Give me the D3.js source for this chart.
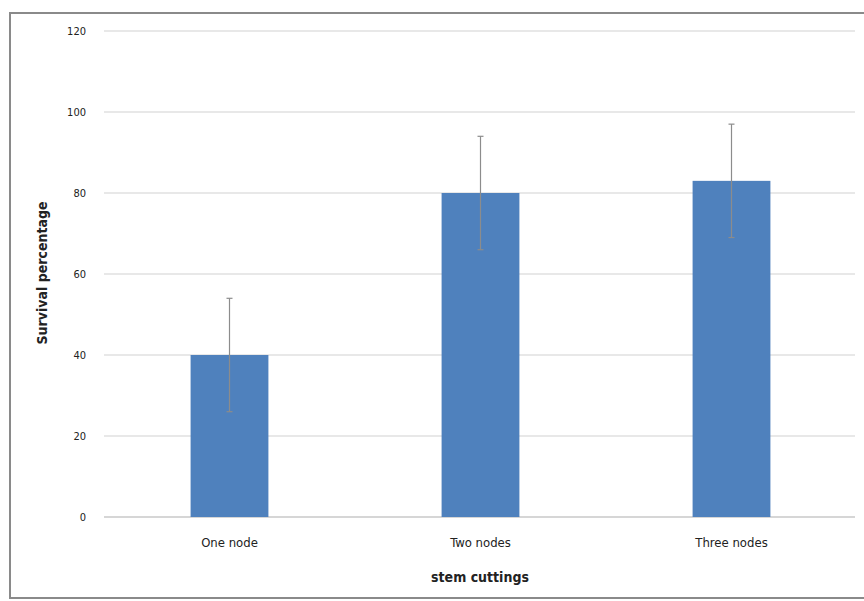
<html>
<script src="https://d3js.org/d3.v7.min.js"></script>
<style>
  body { margin: 0; background: #fff; }
  text { font-family: "Liberation Sans Narrow", "DejaVu Sans Condensed", sans-serif; fill: #222; }
</style>
<body>
<div id="chart"></div>
<script>
  const categories = ["One node", "Two nodes", "Three nodes"];
  const survival = [40, 80, 83];
  const errors = [14, 14, 14];
  const yTicks = [0, 20, 40, 60, 80, 100, 120];

  var width = 864, height = 601;
  var svg = d3.select("#chart").append("svg")
    .attr("width", width).attr("height", height);

  // outer frame
  svg.append("rect")
    .attr("x", 10).attr("y", 13)
    .attr("width", 870).attr("height", 585)
    .attr("fill", "none").attr("stroke", "#8a8a8a").attr("stroke-width", 2);

  var xScale = d3.scaleBand()
    .domain(categories)
    .range([104, 857])
    .paddingInner(0.69).paddingOuter(0.345);

  var yScale = d3.scaleLinear().domain([0, 120]).range([517, 31]);

  // gridlines
  svg.append("g").selectAll("line")
    .data(yTicks)
    .enter().append("line")
    .attr("x1", 104).attr("x2", 855)
    .attr("y1", d => yScale(d)).attr("y2", d => yScale(d))
    .attr("stroke", d => d === 0 ? "#c8c8c8" : "#e0e0e0")
    .attr("stroke-width", 1.5);

  var yAxis = svg.append("g")
    .attr("transform", "translate(96,0)")
    .call(d3.axisLeft(yScale).tickValues(yTicks).tickSize(0).tickPadding(10));
  yAxis.select(".domain").remove();
  yAxis.selectAll("text").style("font-size", "11px").attr("fill", "#222");

  svg.selectAll(".bar")
    .data(survival)
    .enter().append("rect")
    .attr("class", "bar")
    .attr("x", (d, i) => xScale(categories[i]))
    .attr("width", xScale.bandwidth())
    .attr("y", d => yScale(d))
    .attr("height", d => yScale(0) - yScale(d))
    .attr("fill", "#4f81bd");

  // error bars
  var eb = svg.append("g").selectAll("g")
    .data(survival)
    .enter().append("g")
    .attr("stroke", "#8c8c8c").attr("stroke-width", 1.2);
  eb.append("line")
    .attr("x1", (d, i) => xScale(categories[i]) + xScale.bandwidth() / 2)
    .attr("x2", (d, i) => xScale(categories[i]) + xScale.bandwidth() / 2)
    .attr("y1", (d, i) => yScale(d + errors[i]))
    .attr("y2", (d, i) => yScale(d - errors[i]));
  eb.append("line")
    .attr("x1", (d, i) => xScale(categories[i]) + xScale.bandwidth() / 2 - 3)
    .attr("x2", (d, i) => xScale(categories[i]) + xScale.bandwidth() / 2 + 3)
    .attr("y1", (d, i) => yScale(d + errors[i]))
    .attr("y2", (d, i) => yScale(d + errors[i]));
  eb.append("line")
    .attr("x1", (d, i) => xScale(categories[i]) + xScale.bandwidth() / 2 - 3)
    .attr("x2", (d, i) => xScale(categories[i]) + xScale.bandwidth() / 2 + 3)
    .attr("y1", (d, i) => yScale(d - errors[i]))
    .attr("y2", (d, i) => yScale(d - errors[i]));

  var xAxis = svg.append("g")
    .attr("transform", "translate(0,517)")
    .call(d3.axisBottom(xScale).tickSize(0).tickPadding(21));
  xAxis.select(".domain").remove();
  xAxis.selectAll("text").style("font-size", "13px").attr("fill", "#222");

  svg.append("text")
    .attr("x", 480).attr("y", 582)
    .attr("text-anchor", "middle")
    .style("font-size", "14px").style("font-weight", "bold")
    .text("stem cuttings");

  svg.append("text")
    .attr("transform", "translate(47,273) rotate(-90)")
    .attr("text-anchor", "middle")
    .style("font-size", "14px").style("font-weight", "bold")
    .text("Survival percentage");
</script>
</body>
</html>
